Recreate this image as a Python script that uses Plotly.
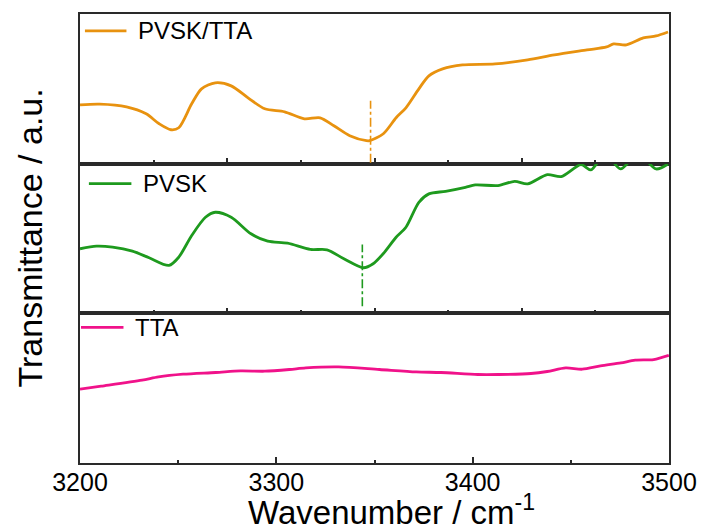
import plotly.graph_objects as go

# FTIR transmittance spectra in the N-H stretching region (arbitrary units, offset per panel)
wn_pvsk_tta = [3200, 3210, 3223.7, 3233.7, 3240.3, 3246.3, 3250.3, 3256.9, 3261.9, 3268.9,
               3277, 3285.6, 3294.1, 3304.2, 3314.3, 3322.3, 3329.3, 3337.4, 3345.9, 3347.5,
               3354.5, 3361, 3366, 3372.6, 3377.7, 3384.7, 3394.8, 3411.4, 3428, 3441.6,
               3458.2, 3468.2, 3471.8, 3478.3, 3486.9, 3493.4, 3499.5]
t_pvsk_tta = [59, 59.7, 57, 50, 40, 34, 36, 60, 75, 81,
              78, 66, 55, 52, 45, 46, 38, 28, 23, 23,
              30, 46, 56, 75, 88, 95, 99, 100, 104, 109,
              114, 117, 120, 119, 126, 128, 132]

wn_pvsk = [3200, 3208.4, 3216.6, 3226.7, 3235.2, 3245.3, 3250.3, 3256.9, 3263.9, 3268.9,
           3277, 3287.1, 3295.6, 3305.7, 3317.3, 3325.8, 3334.4, 3344.4, 3349.3, 3354.4,
           3361, 3366, 3372.6, 3377.7, 3386.2, 3396.3, 3401.3, 3412.9, 3421.4, 3428,
           3438, 3445.1, 3455.2, 3460.2, 3467.7, 3475.3, 3484.3, 3493.4, 3499.5]
t_pvsk = [64.7, 67.3, 66.3, 62.3, 55.7, 48, 56.3, 78, 96.3, 101.3,
          96.3, 79.7, 72.3, 70.3, 64, 63.7, 54.7, 45.7, 49.7, 59.7,
          76.3, 86.3, 111.3, 119.7, 122.3, 126.3, 128.7, 128, 132.3, 129.7,
          139, 137, 149, 143.7, 160, 144.7, 160, 144.7, 149.7]

wn_tta = [3200, 3210.8, 3231.6, 3240, 3252.5, 3269.1, 3281.7, 3294.1, 3306.7, 3315,
          3331.7, 3352.5, 3371.3, 3383.8, 3402.6, 3413, 3429.7, 3438, 3447.4, 3455.8,
          3465.1, 3475.5, 3482.8, 3492.2, 3499.9]
t_tta = [74, 77, 83, 86.3, 89, 90.7, 92.3, 92, 93.7, 95.3,
         96.3, 93.7, 91.3, 90.7, 88.7, 88.7, 89.7, 91.7, 95.3, 94,
         97.3, 100.3, 103, 103.7, 108]

names = ["PVSK/TTA", "PVSK", "TTA"]
colors = ["#E8920F", "#1E9A1E", "#F0128A"]

# band minima marked with dash-dot guides: (wavenumber, y from, y to)
marks = {"PVSK/TTA": (3348, 1, 63), "PVSK": (3343.8, 7, 69)}

font = "Arial, Liberation Sans, sans-serif"
W, H = 709, 531
L, R, T, B = 80, 33, 13, 68
pw = W - L - R
ptot = H - T - B

fig = go.Figure()
series = [(wn_pvsk_tta, t_pvsk_tta), (wn_pvsk, t_pvsk), (wn_tta, t_tta)]
for i, ((wx, ty), name, col) in enumerate(zip(series, names, colors)):
    k = "" if i == 0 else str(i + 1)
    fig.add_trace(go.Scatter(x=wx, y=ty, mode="lines", name=name,
                             line=dict(color=col, width=2.8, shape="spline", smoothing=0.8),
                             xaxis="x" + k, yaxis="y" + k, showlegend=False))

layout = dict(width=W, height=H, margin=dict(l=L, r=R, t=T, b=B),
              plot_bgcolor="white", paper_bgcolor="white", showlegend=False)

domains = [[2 / 3, 1], [1 / 3, 2 / 3], [0, 1 / 3]]
for i in range(3):
    k = "" if i == 0 else str(i + 1)
    bottom = i == 2
    xa = dict(domain=[0, 1], range=[3200, 3500], anchor="y" + k,
              showline=True, linecolor="#2a2a2a", linewidth=1.5, mirror=True,
              showgrid=False, zeroline=False, ticks="inside", tickcolor="#2a2a2a",
              tickwidth=1.5, ticklen=6, tickfont=dict(family=font, size=25, color="black"),
              showticklabels=bottom)
    if bottom:
        xa.update(tick0=3200, dtick=100, ticklabelstandoff=-4,
                  minor=dict(ticks="inside", tick0=3200, dtick=50, ticklen=3.5,
                             tickcolor="#2a2a2a", tickwidth=1.5))
    else:
        xa.update(tick0=3200, dtick=75,
                  minor=dict(ticks="inside", tick0=3200, dtick=37.5, ticklen=3.5,
                             tickcolor="#2a2a2a", tickwidth=1.5))
    ya = dict(domain=domains[i], range=[0, 150], anchor="x" + k,
              showline=True, linecolor="#2a2a2a", linewidth=1.5, mirror=True,
              showgrid=False, zeroline=False, ticks="", showticklabels=False)
    layout["xaxis" + k] = xa
    layout["yaxis" + k] = ya
fig.update_layout(**layout)

# dash-dot guides at the band minima
for i, name in enumerate(names):
    if name in marks:
        k = "" if i == 0 else str(i + 1)
        xv, y0, y1 = marks[name]
        fig.add_shape(type="line", xref="x" + k, yref="y" + k, x0=xv, x1=xv, y0=y0, y1=y1,
                      line=dict(color=colors[i], width=1.6, dash="dashdot"))

# in-panel legend entries (line sample + label), positioned in pixels from the top-left
leg_pos = [(85, 127, 30), (89, 132, 183), (81, 124, 327)]
for (xa0, xa1, yc), name, col in zip(leg_pos, names, colors):
    yp = 1 - (yc - T) / ptot
    fig.add_shape(type="line", xref="paper", yref="paper",
                  x0=(xa0 - L) / pw, x1=(xa1 - L) / pw, y0=yp, y1=yp,
                  line=dict(color=col, width=2.8))
    fig.add_annotation(x=(xa1 + 10 - L) / pw, y=yp, xref="paper", yref="paper",
                       text=name, showarrow=False, xanchor="left", yanchor="middle",
                       font=dict(family=font, size=24, color="black"))

# axis titles
fig.add_annotation(x=0, y=0.5, xref="paper", yref="paper", xshift=-51,
                   text="Transmittance / a.u.", textangle=-90, showarrow=False,
                   xanchor="center", yanchor="middle",
                   font=dict(family=font, size=34, color="black"))
fig.add_annotation(x=(395 - L) / pw, y=0, xref="paper", yref="paper", yshift=-47,
                   text="Wavenumber / cm<sup>-1</sup>", showarrow=False,
                   xanchor="center", yanchor="middle",
                   font=dict(family=font, size=33, color="black"))

fig.write_html("out.html")
